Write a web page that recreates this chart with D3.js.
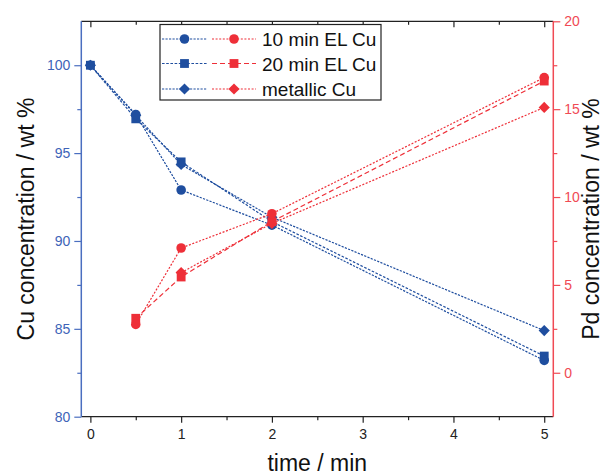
<!DOCTYPE html>
<html>
<head>
<meta charset="utf-8">
<script src="https://cdn.jsdelivr.net/npm/d3@7"></script>
<style>
  html, body { margin: 0; padding: 0; background: #fff; }
  svg { display: block; font-family: "Liberation Sans", Arial, sans-serif; }
</style>
</head>
<body>
<svg id="chart" width="604" height="475"></svg>
<script>
// Sampling times (min)
const cuTimes = [0, 0.5, 1, 2, 5];
const pdTimes = [0.5, 1, 2, 5];
const pdTimesMetallic = [1, 2, 5];

// Cu concentration (wt %), left axis
const cu10min = [100, 97.2, 92.9, 90.9, 83.2];
const cu20min = [100, 96.95, 94.5, 91.1, 83.45];
const cuMetallic = [100, 97.15, 94.35, 91.35, 84.9];

// Pd concentration (wt %), right axis
const pd10min = [2.75, 7.1, 9.05, 16.8];
const pd20min = [3.1, 5.45, 8.6, 16.6];
const pdMetallic = [5.7, 8.5, 15.1];

const seriesNames = ["10 min EL Cu", "20 min EL Cu", "metallic Cu"];
const xTicks = [0, 1, 2, 3, 4, 5];
const leftTicks = [80, 85, 90, 95, 100];
const rightTicks = [0, 5, 10, 15, 20];

const BLUE = "#1f4e9f";
const BLUE_AXIS = "#4a6ec0";
const RED = "#ee2f38";
const RED_AXIS = "#f04a54";
const FONT = "Liberation Sans, Arial, sans-serif";

const svg = d3.select("#chart");
const L = 81.3, R = 553.3, T = 21.3, B = 416.7;

const x = d3.scaleLinear().domain([-0.1, 5.1]).range([L, R]);
const yL = d3.scaleLinear().domain([80, 102.5]).range([B, T]);
const yR = d3.scaleLinear().domain([-2.5, 20]).range([B, T]);

// marker shapes: circle, square, diamond (square turned 45°)
const shapes = [d3.symbolCircle, d3.symbolSquare, d3.symbolSquare];
const sizes = [72, 78, 62];
const rotations = [0, 0, 45];
function marker(i) { return d3.symbol().type(shapes[i]).size(sizes[i])(); }

// frame: top line
svg.append("line").attr("x1", L).attr("x2", R).attr("y1", T).attr("y2", T)
  .attr("stroke", "#222").attr("stroke-width", 1.2);

// top ticks (inward)
const minorX = [0.5, 1.5, 2.5, 3.5, 4.5];
const topAxis = d3.axisBottom(x).tickValues(xTicks).tickSize(6).tickFormat("");
const topG = svg.append("g").attr("transform", `translate(0,${T})`).call(topAxis);
topG.select(".domain").remove();
topG.selectAll("line").attr("stroke", "#222").attr("stroke-width", 1.2);
const topMinor = d3.axisBottom(x).tickValues(minorX).tickSize(3.5).tickFormat("");
const topMG = svg.append("g").attr("transform", `translate(0,${T})`).call(topMinor);
topMG.select(".domain").remove();
topMG.selectAll("line").attr("stroke", "#222").attr("stroke-width", 1.2);

// bottom axis
const xAxis = d3.axisBottom(x).tickValues(xTicks).tickSize(6).tickPadding(6).tickFormat(d3.format("d"));
const xg = svg.append("g").attr("transform", `translate(0,${B})`).call(xAxis);
xg.select(".domain").attr("d", `M${L},0H${R}`).attr("stroke", "#222").attr("stroke-width", 1.3);
xg.selectAll(".tick line").attr("stroke", "#222").attr("stroke-width", 1.2);
xg.selectAll(".tick text").attr("fill", "#222").attr("font-size", 14).attr("font-family", FONT);
const xMinor = d3.axisBottom(x).tickValues(minorX).tickSize(3.5).tickFormat("");
const xmg = svg.append("g").attr("transform", `translate(0,${B})`).call(xMinor);
xmg.select(".domain").remove();
xmg.selectAll("line").attr("stroke", "#222").attr("stroke-width", 1.2);

// left axis (Cu)
const yLAxis = d3.axisLeft(yL).tickValues(leftTicks).tickSize(7).tickPadding(4);
const ylg = svg.append("g").attr("transform", `translate(${L},0)`).call(yLAxis);
ylg.select(".domain").attr("d", `M0,${T}V${B}`).attr("stroke", BLUE_AXIS).attr("stroke-width", 1.5);
ylg.selectAll(".tick line").attr("stroke", BLUE_AXIS).attr("stroke-width", 1.2);
ylg.selectAll(".tick text").attr("fill", "#3e63b8").attr("font-size", 14).attr("font-family", FONT);
const yLMinor = d3.axisLeft(yL).tickValues([82.5, 87.5, 92.5, 97.5]).tickSize(4).tickFormat("");
const ylmg = svg.append("g").attr("transform", `translate(${L},0)`).call(yLMinor);
ylmg.select(".domain").remove();
ylmg.selectAll("line").attr("stroke", BLUE_AXIS).attr("stroke-width", 1.2);

// right axis (Pd)
const yRAxis = d3.axisRight(yR).tickValues(rightTicks).tickSize(7).tickPadding(4);
const yrg = svg.append("g").attr("transform", `translate(${R},0)`).call(yRAxis);
yrg.select(".domain").attr("d", `M0,${T}V${B}`).attr("stroke", RED_AXIS).attr("stroke-width", 1.5);
yrg.selectAll(".tick line").attr("stroke", RED_AXIS).attr("stroke-width", 1.2);
yrg.selectAll(".tick text").attr("fill", RED_AXIS).attr("font-size", 14).attr("font-family", FONT);
const yRMinor = d3.axisRight(yR).tickValues([2.5, 7.5, 12.5, 17.5]).tickSize(4).tickFormat("");
const yrmg = svg.append("g").attr("transform", `translate(${R},0)`).call(yRMinor);
yrmg.select(".domain").remove();
yrmg.selectAll("line").attr("stroke", RED_AXIS).attr("stroke-width", 1.2);

// axis titles
svg.append("text").attr("x", (L + R) / 2).attr("y", 471).attr("text-anchor", "middle")
  .attr("font-size", 23).attr("fill", "#111").text("time / min");
svg.append("text").attr("transform", `translate(34,${(T + B) / 2}) rotate(-90)`)
  .attr("text-anchor", "middle").attr("font-size", 23).attr("fill", "#111")
  .text("Cu concentration / wt %");
svg.append("text").attr("transform", `translate(599,${(T + B) / 2}) rotate(-90)`)
  .attr("text-anchor", "middle").attr("font-size", 23).attr("fill", "#111")
  .text("Pd concentration / wt %");

// series definitions (index = marker shape / legend row)
const cuSeries = [
  { t: cuTimes, v: cu10min, shape: 0, dash: "2.2,1.3" },
  { t: cuTimes, v: cu20min, shape: 1, dash: "2.6,1.6" },
  { t: cuTimes, v: cuMetallic, shape: 2, dash: "2.2,1.3" }
];
const pdSeries = [
  { t: pdTimes, v: pd10min, shape: 0, dash: "2,1.6" },
  { t: pdTimes, v: pd20min, shape: 1, dash: "5,3" },
  { t: pdTimesMetallic, v: pdMetallic, shape: 2, dash: "2,1.6" }
];

function drawSeries(list, yScale, color) {
  list.forEach(s => {
    const pts = s.t.map((t, i) => [t, s.v[i]]);
    const line = d3.line().x(d => x(d[0])).y(d => yScale(d[1]));
    svg.append("path").datum(pts).attr("d", line).attr("fill", "none")
      .attr("stroke", color).attr("stroke-width", 1.2).attr("stroke-dasharray", s.dash);
  });
  // markers: metallic first so the EL circles sit on top
  list.slice().reverse().forEach(s => {
    const pts = s.t.map((t, i) => [t, s.v[i]]);
    svg.append("g").selectAll("path").data(pts).join("path")
      .attr("transform", d => `translate(${x(d[0])},${yScale(d[1])}) rotate(${rotations[s.shape]})`)
      .attr("d", marker(s.shape))
      .attr("fill", color);
  });
}
drawSeries(cuSeries, yL, BLUE);
drawSeries(pdSeries, yR, RED);

// legend
const lg = svg.append("g");
lg.append("rect").attr("x", 160).attr("y", 24.5).attr("width", 221).attr("height", 75.5)
  .attr("fill", "#fff").attr("stroke", "#222").attr("stroke-width", 1.2);
const rowY = [39, 63.5, 89];
seriesNames.forEach((name, i) => {
  const yy = rowY[i];
  lg.append("line").attr("x1", 162).attr("x2", 207).attr("y1", yy).attr("y2", yy)
    .attr("stroke", BLUE).attr("stroke-width", 1.2).attr("stroke-dasharray", cuSeries[i].dash);
  lg.append("path").attr("transform", `translate(184.5,${yy}) rotate(${rotations[i]})`)
    .attr("d", marker(i)).attr("fill", BLUE);
  lg.append("line").attr("x1", 212).attr("x2", 256).attr("y1", yy).attr("y2", yy)
    .attr("stroke", RED).attr("stroke-width", 1.2).attr("stroke-dasharray", pdSeries[i].dash);
  lg.append("path").attr("transform", `translate(234,${yy}) rotate(${rotations[i]})`)
    .attr("d", marker(i)).attr("fill", RED);
  lg.append("text").attr("x", 262).attr("y", yy + 7).attr("font-size", 19).attr("fill", "#111").text(name);
});
</script>
</body>
</html>
